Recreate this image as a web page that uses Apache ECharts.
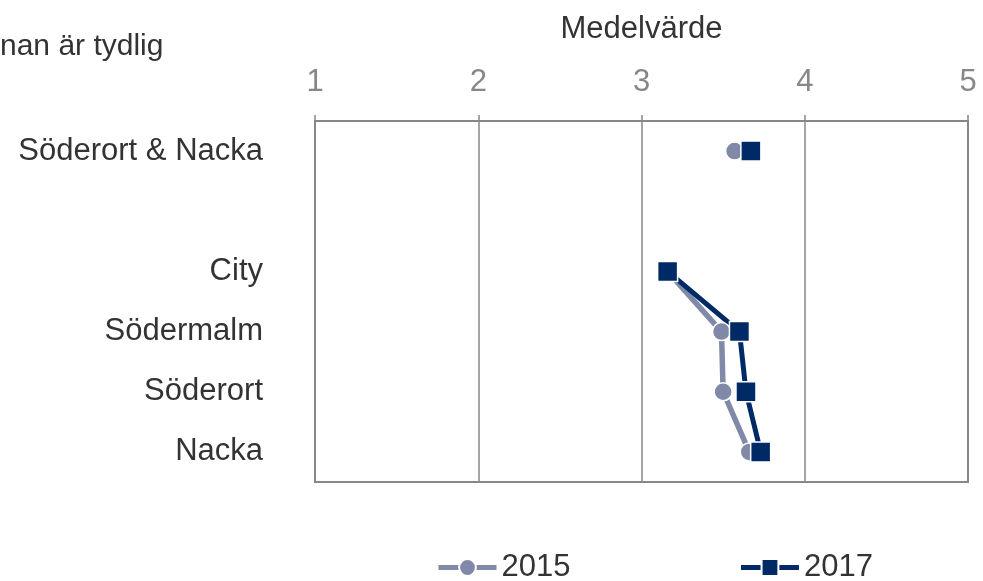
<!DOCTYPE html>
<html>

<head>
  <meta charset="UTF-8">
  <title>Medelvärde</title>
  <script src="https://cdn.jsdelivr.net/npm/echarts@6/dist/echarts.min.js"></script>
  <style>
    html, body { margin: 0; padding: 0; background: #fff; }
    #chart { width: 983px; height: 581px; }
  </style>
</head>

<body>
  <div id="chart"></div>
  <script>
    // kategorier (tom rad mellan totalen och områdena)
    const categories = ['Söderort & Nacka', '', 'City', 'Södermalm', 'Söderort', 'Nacka'];
    const values2015 = [3.57, null, 3.16, 3.49, 3.50, 3.66];
    const values2017 = [3.67, null, 3.16, 3.60, 3.64, 3.73];
    const seriesNames = ['2015', '2017'];
    const xTicks = [1, 2, 3, 4, 5];

    const grey = '#878787';
    const font = 'Liberation Sans, Arial, sans-serif';

    const chart = echarts.init(document.getElementById('chart'));
    chart.setOption({
      animation: false,
      textStyle: { fontFamily: font },
      graphic: [{
        type: 'text',
        left: 0,
        top: 32,
        style: { text: 'nan är tydlig', fontSize: 30, fill: '#333', fontFamily: font }
      }],
      grid: { left: 315, right: 15, top: 121, bottom: 99, show: true, borderColor: grey, borderWidth: 2 },
      legend: {
        bottom: -7,
        left: 431,
        itemWidth: 58,
        itemHeight: 21,
        itemGap: 168,
        lineStyle: { width: 5 },
        textStyle: { fontSize: 31, color: '#333' },
        data: seriesNames
      },
      xAxis: {
        type: 'value',
        position: 'top',
        min: xTicks[0],
        max: xTicks[xTicks.length - 1],
        interval: 1,
        name: 'Medelvärde',
        nameLocation: 'middle',
        nameGap: 76,
        nameTextStyle: { fontSize: 31, color: '#333' },
        axisLine: { show: true, lineStyle: { color: grey, width: 2 } },
        axisTick: { show: true, length: 6, lineStyle: { color: grey, width: 1.5 } },
        axisLabel: { fontSize: 31, color: grey, margin: 23 },
        splitLine: { show: true, lineStyle: { color: grey, width: 1.5 } }
      },
      yAxis: {
        type: 'category',
        inverse: true,
        data: categories,
        axisLine: { show: true, lineStyle: { color: grey, width: 2 } },
        axisTick: { show: false },
        axisLabel: { fontSize: 31, color: '#333', margin: 52, padding: [7, 0, 0, 0] }
      },
      series: [{
        name: seriesNames[0],
        type: 'line',
        data: values2015,
        symbol: 'circle',
        symbolSize: 18,
        color: '#8189a8',
        lineStyle: { width: 5.5 },
        itemStyle: { borderColor: '#fff', borderWidth: 1.5 }
      }, {
        name: seriesNames[1],
        type: 'line',
        data: values2017,
        symbol: 'rect',
        symbolSize: 20,
        color: '#002a66',
        lineStyle: { width: 5 },
        itemStyle: { borderColor: '#fff', borderWidth: 1.5 }
      }]
    });
  </script>
</body>

</html>
